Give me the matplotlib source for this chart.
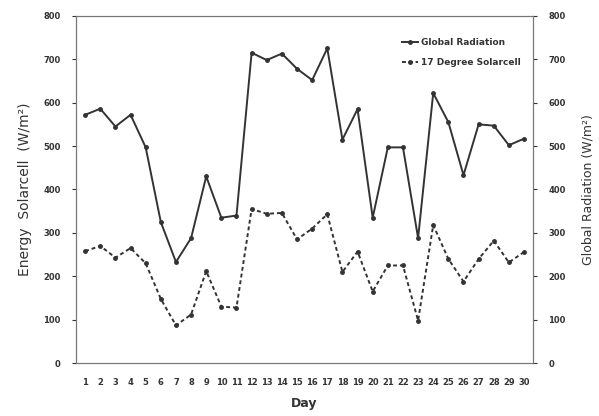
import numpy as np
import matplotlib.pyplot as plt

# daily values
days = list(range(1, 31))
global_radiation = [572, 586, 545, 572, 497, 325, 233, 288, 430, 335,
                    340, 715, 698, 713, 678, 652, 725, 515, 585, 335,
                    497, 497, 288, 622, 555, 433, 550, 547, 502, 517]
solarcell_17deg = [258, 270, 243, 265, 230, 148, 87, 112, 212, 130,
                   128, 355, 344, 346, 285, 310, 343, 210, 257, 165,
                   225, 225, 98, 318, 240, 188, 240, 282, 232, 256]
y_ticks = [0, 100, 200, 300, 400, 500, 600, 700, 800]

line_col = "#333333"
text_col = "#333333"
spine_col = "#777777"

fig = plt.figure(figsize=(5.99, 4.16), dpi=100)
ax = fig.add_axes([0.127, 0.127, 0.763, 0.835])
ax2 = ax.twinx()

l1, = ax2.plot(days, global_radiation, color=line_col, lw=1.4, marker="o",
               markersize=2.5, label="Global Radiation")
l2, = ax.plot(days, solarcell_17deg, color=line_col, lw=1.4, ls=(0, (2, 1.5)),
              marker="o", markersize=2.5, label="17 Degree Solarcell")

for a in (ax, ax2):
    a.set_xlim(0.4, 30.6)
    a.set_ylim(0, 800)
    a.set_yticks(y_ticks)
    a.tick_params(axis="y", labelsize=6, colors=text_col, length=3,
                  width=0.8, pad=8)
    for s in a.spines.values():
        s.set_color(spine_col)
        s.set_linewidth(0.8)
    for lab in a.get_yticklabels():
        lab.set_fontweight("bold")

ax.set_xticks(days)
ax.set_xticklabels([str(d) for d in days])
ax.tick_params(axis="x", labelsize=6, colors=text_col, length=0, pad=11)
for lab in ax.get_xticklabels():
    lab.set_fontweight("bold")

ax.set_ylabel("Energy  Solarcell  (W/m²)", fontsize=10, color=text_col, labelpad=8)
ax2.set_ylabel("Global Radiation (W/m²)", fontsize=9, color=text_col, labelpad=11)
ax.set_xlabel("Day", fontsize=9, color=text_col, fontweight="bold", labelpad=7)

leg = ax.legend(handles=[l1, l2], loc="upper right", bbox_to_anchor=(0.99, 0.96),
                frameon=False, fontsize=6.5, handlelength=1.8, labelspacing=1.2,
                handletextpad=0.3)
for t in leg.get_texts():
    t.set_fontweight("bold")
    t.set_color(text_col)

fig.savefig("out.png", dpi=100)
